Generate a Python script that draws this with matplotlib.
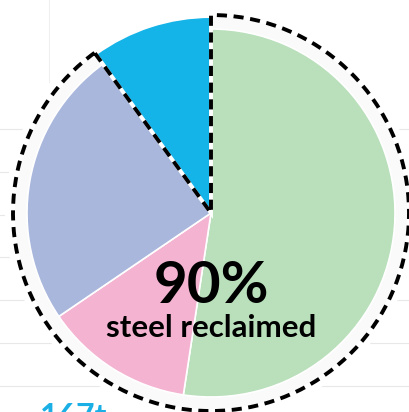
import matplotlib
matplotlib.use("Agg")
import matplotlib.pyplot as plt
from matplotlib.patches import Wedge, Circle

# ---- data ----
categories = ["Reclaimed A", "Reclaimed B", "Reclaimed C", "Not reclaimed"]
shares = [52.4, 13.1, 24.5, 10.0]
colors = ["#b9dfbb", "#f4b3d1", "#a9b7dd", "#14b3e8"]
headline = "90%"
subtitle = "steel reclaimed"
side_label = "167t"

# ---- layout (pixel-based) ----
W, H = 409, 412
fig = plt.figure(figsize=(W / 100, H / 100), dpi=100)
ax = fig.add_axes([0, 0, 1, 1])

cx, cy = 211, H - 213
r_pie = 184
r_blue = 195
r_dash = 198
r_white = 206

# faint background grid lines
for ypx in [129, 172, 215, 257, 300, 343, 386]:
    ax.plot([0, W], [H - ypx, H - ypx], color="#e8e8e8", lw=0.8, zorder=0)
ax.plot([49, 49], [H, H - 82], color="#f0f0f0", lw=0.8, zorder=0)

# white disk covering the grid
ax.add_patch(Circle((cx, cy), r_white, facecolor="white", edgecolor="none", zorder=1))

frac = sum(shares[:3]) / sum(shares)
theta1 = 90 - 360 * frac
# light halo behind reclaimed part
ax.add_patch(Wedge((cx, cy), r_dash, theta1, 450, facecolor="#fafafa",
                   edgecolor="none", zorder=2))

# main pie
wedges, _ = ax.pie(shares, colors=colors, startangle=90, counterclock=False,
                   center=(cx, cy), radius=r_pie, frame=True,
                   wedgeprops=dict(edgecolor="white", linewidth=1.2))
for w in wedges:
    w.set_zorder(3)
# larger blue slice
wedges2, _ = ax.pie(shares, colors=colors, startangle=90, counterclock=False,
                    center=(cx, cy), radius=r_blue, frame=True,
                    wedgeprops=dict(edgecolor="none", linewidth=0))
for i, w in enumerate(wedges2):
    w.set_zorder(3)
    w.set_visible(i == 3)

ax.set_xlim(0, W)
ax.set_ylim(0, H)
ax.set_aspect("equal")
ax.axis("off")

# dashed outline around reclaimed share
ax.add_patch(Wedge((cx, cy), r_dash, theta1, 450, fill=False,
                   edgecolor="white", linewidth=2.8, zorder=4))
ax.add_patch(Wedge((cx, cy), r_dash, theta1, 450, fill=False,
                   edgecolor="black", linewidth=2.8, linestyle=(0, (2.6, 1.7)),
                   zorder=5))

ax.text(cx, H - 303, headline, ha="center", va="baseline", fontsize=42,
        fontweight="bold", family=["Lato", "DejaVu Sans"], color="black", zorder=6)
ax.text(cx, H - 337, subtitle, ha="center", va="baseline", fontsize=22.5,
        fontweight="bold", family=["Lato", "DejaVu Sans"], color="black", zorder=6)
ax.text(40, H - 427, side_label, ha="left", va="baseline", fontsize=23,
        fontweight="bold", family=["Lato", "DejaVu Sans"], color="#1ab0e6", zorder=6)

fig.savefig("out.png", dpi=100)
